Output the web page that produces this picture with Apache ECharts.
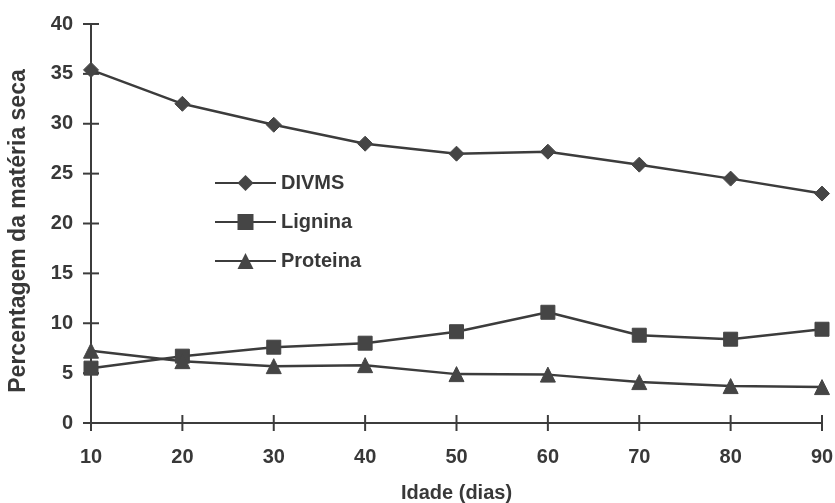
<!DOCTYPE html>
<html><head><meta charset="utf-8">
<script src="https://cdn.jsdelivr.net/npm/echarts@6/dist/echarts.min.js"></script>
<style>html,body{margin:0;padding:0;background:#fff}#c{width:835px;height:503px}</style>
</head><body><div id="c"></div>
<script>
const days = [10, 20, 30, 40, 50, 60, 70, 80, 90];
const divms = [35.4, 32.0, 29.9, 28.0, 27.0, 27.2, 25.9, 24.5, 23.0];
const lignina = [5.5, 6.7, 7.6, 8.0, 9.15, 11.1, 8.8, 8.4, 9.4];
const proteina = [7.25, 6.2, 5.7, 5.8, 4.9, 4.85, 4.1, 3.7, 3.6];
const yTicks = [0, 5, 10, 15, 20, 25, 30, 35, 40];

const txt = '#383838';
const lineC = '#3c3c3c';
const font = '"Liberation Sans", Arial, sans-serif';
const pair = a => days.map((d, i) => [d, a[i]]);
const TICK = 8;

const chart = echarts.init(document.getElementById('c'));
chart.setOption({
  animation: false,
  textStyle: {fontFamily: font},
  grid: {left: 91, right: 13, top: 24, bottom: 80, containLabel: false, outerBoundsMode: 'none'},
  legend: {
    orient: 'vertical', left: 209, top: 167, itemWidth: 61, itemHeight: 20, itemGap: 17,
    textStyle: {fontFamily: font, fontWeight: 'bold', fontSize: 20, lineHeight: 22, color: txt},
    data: ['DIVMS', 'Lignina', 'Proteina']
  },
  xAxis: {
    type: 'value', min: 10, max: 90, interval: 10,
    axisLine: {show: true, onZero: false, lineStyle: {color: lineC, width: 2}}, splitLine: {show: false},
    axisTick: {show: false},
    axisLabel: {fontFamily: font, fontWeight: 'bold', fontSize: 20, color: txt, margin: 24},
    name: 'Idade (dias)', nameLocation: 'middle', nameGap: 60,
    nameTextStyle: {fontFamily: font, fontWeight: 'bold', fontSize: 20, color: txt}
  },
  yAxis: {
    type: 'value', min: 0, max: 40, interval: 5,
    axisLine: {show: true, onZero: false, lineStyle: {color: lineC, width: 2}}, splitLine: {show: false},
    axisTick: {show: false},
    axisLabel: {fontFamily: font, fontWeight: 'bold', fontSize: 20, color: txt, margin: 18,
      formatter: v => yTicks.includes(v) ? String(v) : ''},
    name: 'Percentagem da matéria seca', nameLocation: 'middle', nameGap: 61, nameRotate: 90,
    nameTextStyle: {fontFamily: font, fontWeight: 'bold', fontSize: 23, color: txt, padding: [0, 15, 0, 0]}
  },
  series: [
    {name: 'yticks', type: 'custom', silent: true, clip: false, z: 1,
     data: yTicks.map(v => [days[0], v]),
     renderItem: (params, api) => {
       const p = api.coord([api.value(0), api.value(1)]);
       return {type: 'line', shape: {x1: p[0] - TICK, y1: p[1], x2: p[0] + TICK, y2: p[1]},
               style: {stroke: lineC, lineWidth: 2}};
     }},
    {name: 'xticks', type: 'custom', silent: true, clip: false, z: 1,
     data: days.map(d => [d, 0]),
     renderItem: (params, api) => {
       const p = api.coord([api.value(0), api.value(1)]);
       return {type: 'line', shape: {x1: p[0], y1: p[1] - TICK, x2: p[0], y2: p[1] + TICK},
               style: {stroke: lineC, lineWidth: 2}};
     }},
    {name: 'DIVMS', type: 'line', data: pair(divms), symbol: 'diamond', symbolSize: 15, z: 3,
     lineStyle: {color: lineC, width: 2.5}, itemStyle: {color: '#454545', borderColor: '#454545'}},
    {name: 'Lignina', type: 'line', data: pair(lignina), symbol: 'rect', symbolSize: 14, z: 3,
     lineStyle: {color: lineC, width: 2.5}, itemStyle: {color: '#454545', borderColor: '#454545'}},
    {name: 'Proteina', type: 'line', data: pair(proteina), symbol: 'triangle', symbolSize: 15, z: 3,
     lineStyle: {color: lineC, width: 2.5}, itemStyle: {color: '#454545', borderColor: '#454545'}}
  ]
});
</script></body></html>
